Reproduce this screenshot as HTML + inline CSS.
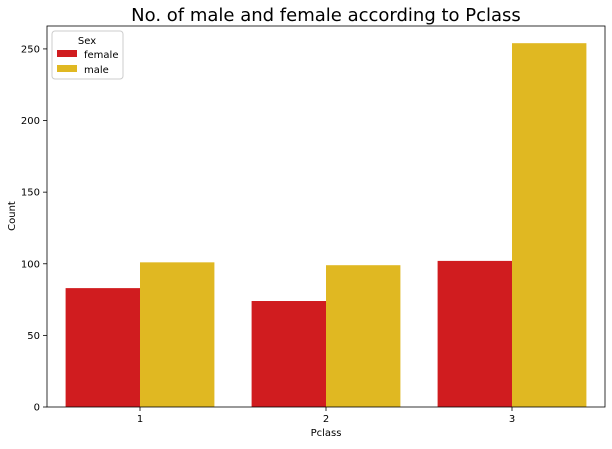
<!DOCTYPE html>
<html><head><meta charset="utf-8"><style>
body{margin:0;background:#fff;font-family:"DejaVu Sans","Liberation Sans",sans-serif;}
svg text{font-family:"DejaVu Sans","Liberation Sans",sans-serif;}
</style></head><body>
<svg id="chart" width="612" height="445" xmlns="http://www.w3.org/2000/svg">
<text x="326" y="21" font-size="18" text-anchor="middle" fill="#000">No. of male and female according to Pclass</text>
<g id="bars"></g>
<g id="axes"></g>
<rect x="47" y="26" width="558" height="381" fill="none" stroke="#000" stroke-width="0.8"/>
<text x="326" y="436" font-size="10" text-anchor="middle">Pclass</text>
<text x="15" y="216" font-size="10" text-anchor="middle" transform="rotate(-90 15 216)">Count</text>
<g>
<rect x="52" y="31" width="71" height="48" rx="3" fill="#fff" stroke="#ccc" stroke-width="1"/>
<text x="87" y="44" font-size="10" text-anchor="middle">Sex</text>
<rect x="57" y="50" width="20" height="7" fill="#d01c1f"/>
<text x="84" y="58" font-size="10">female</text>
<rect x="57" y="65" width="20" height="7" fill="#e0b822"/>
<text x="84" y="73" font-size="10">male</text>
</g>
</svg>
<script>
const categories = ["1","2","3"];
const femaleValues = [83, 74, 102];
const maleValues = [101, 99, 254];
const yTicks = [0, 50, 100, 150, 200, 250];
const NS="http://www.w3.org/2000/svg";
const L=47,R=605,T=26,B=407;
const yMax=266;
function y(v){return B-(v/yMax)*(B-T);}
const band=(R-L)/categories.length;
function xc(i){return L+band*(i+0.5);}
const bw=band*0.8/2;
const bars=document.getElementById('bars');
function mk(tag,attrs,parent){const e=document.createElementNS(NS,tag);for(const k in attrs)e.setAttribute(k,attrs[k]);parent.appendChild(e);return e;}
categories.forEach((c,i)=>{
  const f=mk('rect',{x:xc(i)-bw,y:y(femaleValues[i]),width:bw,height:B-y(femaleValues[i]),fill:'#d01c1f'},bars);
  
  
  const m=mk('rect',{x:xc(i),y:y(maleValues[i]),width:bw,height:B-y(maleValues[i]),fill:'#e0b822'},bars);
  
  
});
const axes=document.getElementById('axes');
yTicks.forEach(t=>{
  const ln=mk('line',{x1:L-4,x2:L,y1:y(t),y2:y(t),stroke:'#000','stroke-width':0.8},axes);
  
  
  const tx=mk('text',{x:L-7,y:y(t)+3.5,'font-size':10,'text-anchor':'end'},axes);
  tx.textContent=t;
  
  
});
categories.forEach((c,i)=>{
  const ln=mk('line',{x1:xc(i),x2:xc(i),y1:B,y2:B+4,stroke:'#000','stroke-width':0.8},axes);
  
  
  const tx=mk('text',{x:xc(i),y:B+15,'font-size':10,'text-anchor':'middle'},axes);
  tx.textContent=c;
  
  
});
</script>
</body></html>
